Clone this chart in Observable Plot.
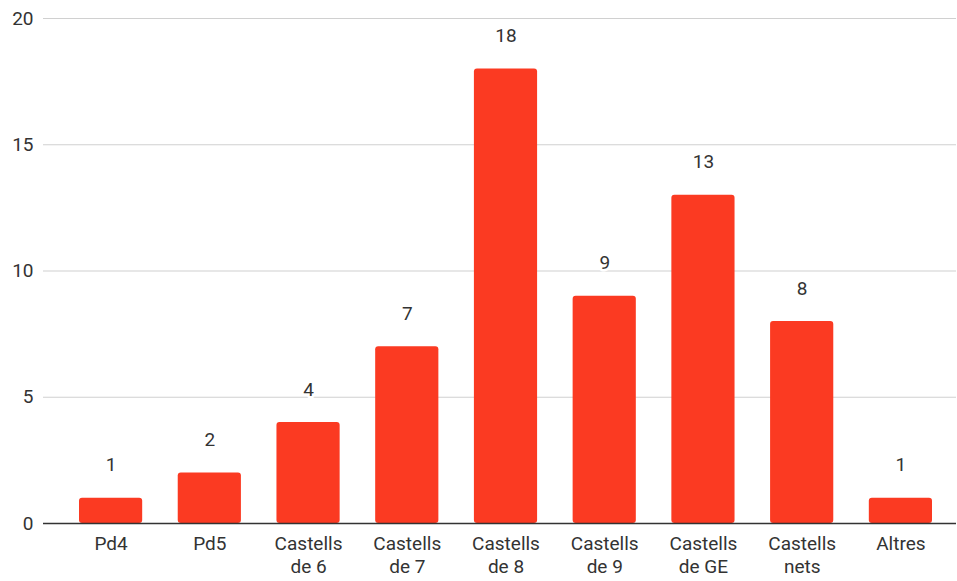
<!DOCTYPE html>
<html>
<head>
<meta charset="utf-8">
<script src="https://cdn.jsdelivr.net/npm/d3@7"></script>
<script src="https://cdn.jsdelivr.net/npm/@observablehq/plot@0.6"></script>
<style>
  html, body { margin: 0; padding: 0; background: #fff; }
  #chart svg { display: block; }
</style>
</head>
<body>
<div id="chart"></div>
<script>
const categories = ["Pd4", "Pd5", "Castells\nde 6", "Castells\nde 7", "Castells\nde 8", "Castells\nde 9", "Castells\nde GE", "Castells\nnets", "Altres"];
const values = [1, 2, 4, 7, 18, 9, 13, 8, 1];
const yTicks = [0, 5, 10, 15, 20];

const data = categories.map((c, i) => ({category: c, value: values[i]}));

const chart = Plot.plot({
  width: 957,
  height: 581,
  marginLeft: 43,
  marginRight: 1,
  marginTop: 18,
  marginBottom: 58,
  style: {fontFamily: "Roboto, Arial, sans-serif", fontSize: "19px", color: "#333", background: "#fff"},
  x: {domain: categories, paddingInner: 0.36, paddingOuter: 0, insetLeft: 36, insetRight: 24, round: false, label: null},
  y: {domain: [0, 20], label: null},
  marks: [
    Plot.ruleY(yTicks.filter(d => d > 0), {stroke: "#d0d0d0", strokeWidth: 1.2}),
    Plot.barY(data, {x: "category", y: "value", fill: "#fb3a22", rx: 3}),
    Plot.ruleY([0], {stroke: "#333", strokeWidth: 1.3}),
    Plot.axisY({ticks: yTicks, tickSize: 0, tickPadding: 10, fontSize: 19, fill: "#333", label: null}),
    Plot.axisX({tickSize: 0, tickPadding: 10, fontSize: 19, fill: "#333", lineHeight: 1.22, label: null, style: {letterSpacing: "0.9px"}}),
    Plot.text(data, {x: "category", y: "value", text: d => String(d.value), dy: -33, fontSize: 19, fill: "#333", stroke: "white", strokeWidth: 5, paintOrder: "stroke"})
  ]
});
document.getElementById("chart").appendChild(chart);
</script>
</body>
</html>
